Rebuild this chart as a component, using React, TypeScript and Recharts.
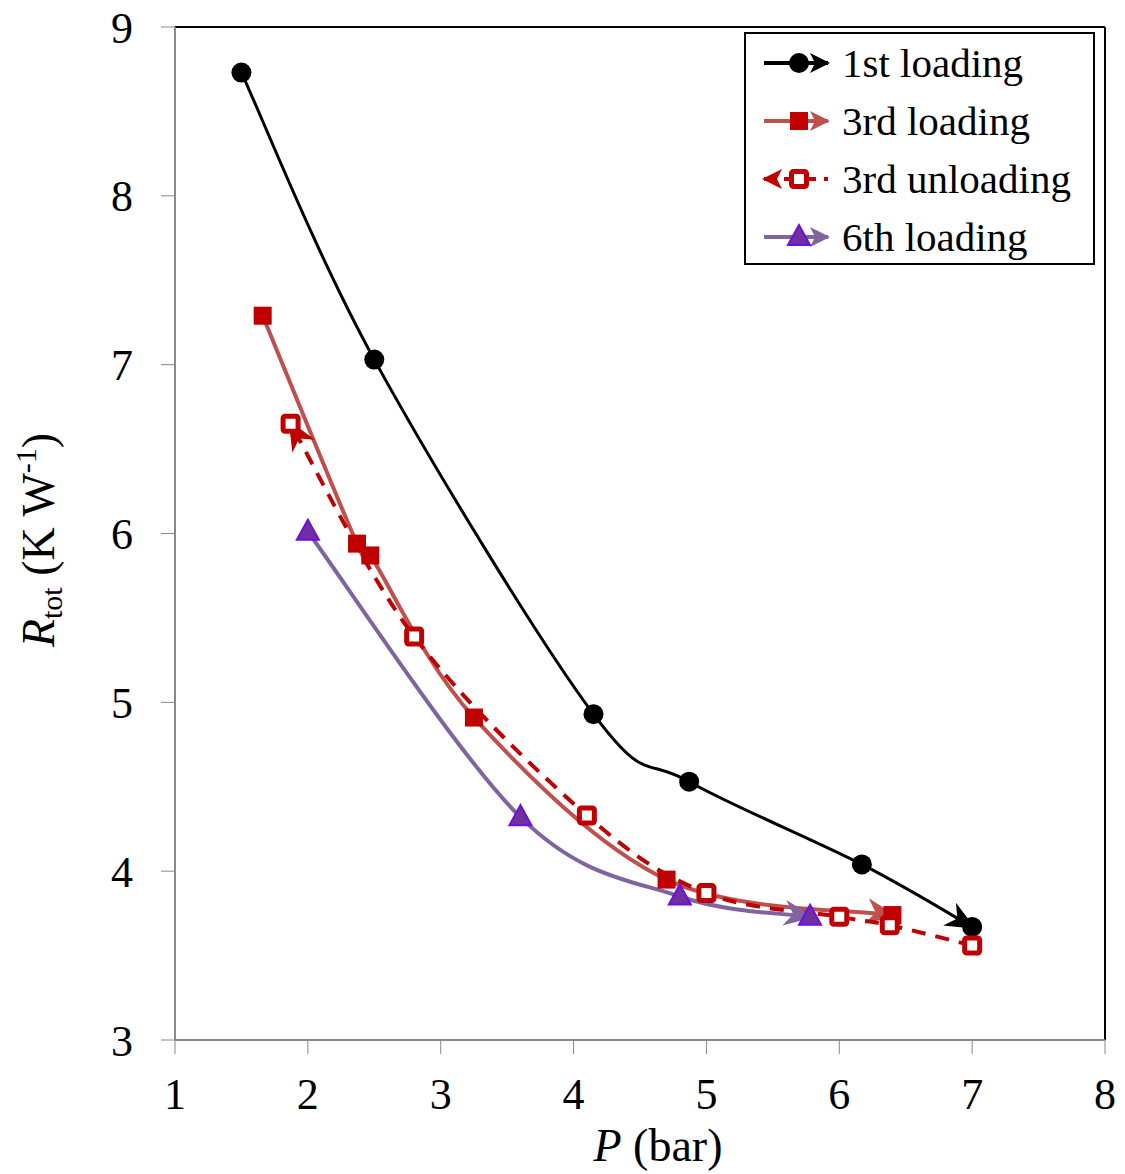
import React from "react";
import {
  Line,
  LineChart,
  ReferenceLine,
  XAxis,
  YAxis,
} from "recharts";

const FONT = "'Liberation Serif', 'Times New Roman', serif";

// P (bar) / R_tot (K W-1)
const firstX = [1.5, 2.5, 4.15, 4.87, 6.17, 7.0];
const firstY = [8.73, 7.03, 4.93, 4.53, 4.04, 3.67];

const thirdLoadX = [1.66, 2.37, 2.47, 3.25, 4.7, 6.4];
const thirdLoadY = [7.29, 5.94, 5.87, 4.91, 3.95, 3.74];

const thirdUnloadX = [7.0, 6.38, 6.0, 5.0, 4.1, 2.8, 1.87];
const thirdUnloadY = [3.56, 3.68, 3.73, 3.87, 4.33, 5.39, 6.65];

const sixthX = [2.0, 3.6, 4.8, 5.78];
const sixthY = [6.01, 4.32, 3.85, 3.73];

const xTicks = [1, 2, 3, 4, 5, 6, 7, 8];
const yTicks = [3, 4, 5, 6, 7, 8, 9];

const zip = (xs: number[], ys: number[]) => xs.map((x, i) => ({ x, y: ys[i] }));

const firstData = zip(firstX, firstY);
const thirdLoadData = zip(thirdLoadX, thirdLoadY);
const thirdUnloadData = zip(thirdUnloadX, thirdUnloadY);
const sixthData = zip(sixthX, sixthY);

// Catmull-Rom style smoothing, close to Excel's smoothed lines
function smoothCurve(context: any) {
  let pts: number[][] = [];
  return {
    areaStart() {},
    areaEnd() {},
    lineStart() {
      pts = [];
    },
    point(x: number, y: number) {
      pts.push([x, y]);
    },
    lineEnd() {
      const n = pts.length;
      if (!n) return;
      context.moveTo(pts[0][0], pts[0][1]);
      for (let i = 0; i < n - 1; i++) {
        const p0 = pts[Math.max(i - 1, 0)];
        const p1 = pts[i];
        const p2 = pts[i + 1];
        const p3 = pts[Math.min(i + 2, n - 1)];
        context.bezierCurveTo(
          p1[0] + (p2[0] - p0[0]) / 6,
          p1[1] + (p2[1] - p0[1]) / 6,
          p2[0] - (p3[0] - p1[0]) / 6,
          p2[1] - (p3[1] - p1[1]) / 6,
          p2[0],
          p2[1]
        );
      }
    },
  };
}

const circleDot = (p: any) => (
  <circle key={`c${p.index}`} cx={p.cx} cy={p.cy} r={10} fill="#000" />
);
const squareDot = (p: any) => (
  <rect key={`s${p.index}`} x={p.cx - 9} y={p.cy - 9} width={18} height={18} fill="#C00000" />
);
const openSquareDot = (p: any) => (
  <rect
    key={`o${p.index}`}
    x={p.cx - 7.5}
    y={p.cy - 7.5}
    width={15}
    height={15}
    rx={2}
    fill="#fff"
    stroke="#C00000"
    strokeWidth={5}
  />
);
const triangleDot = (p: any) => (
  <polygon
    key={`t${p.index}`}
    points={`${p.cx},${p.cy - 12} ${p.cx - 11},${p.cy + 8} ${p.cx + 11},${p.cy + 8}`}
    fill="#7030A0"
    stroke="#6A10E0"
    strokeWidth={2}
  />
);

const arrowPath = "M30,15 L0,2 L9,15 L0,28 Z";

const legendItems = [
  { label: "1st loading", color: "#000", dash: undefined, dot: "circle", dir: 1 },
  { label: "3rd loading", color: "#C0504D", dash: undefined, dot: "square", dir: 1 },
  { label: "3rd unloading", color: "#C00000", dash: "12 8", dot: "open", dir: -1 },
  { label: "6th loading", color: "#8064A2", dash: undefined, dot: "triangle", dir: 1 },
];

function LegendBox() {
  return (
    <div
      style={{
        position: "absolute",
        left: 744,
        top: 32,
        border: "2px solid #000",
        background: "#fff",
        width: 351,
        height: 233,
        boxSizing: "border-box",
        paddingTop: 0,
        fontFamily: FONT,
      }}
    >
      {legendItems.map((it) => (
        <div key={it.label} style={{ display: "flex", alignItems: "center", height: 58 }}>
          <svg width={90} height={40} style={{ marginLeft: 12 }}>
            <line x1={6} y1={20} x2={70} y2={20} stroke={it.color} strokeWidth={4} strokeDasharray={it.dash} />
            {it.dir === 1 ? (
              <path d="M72,20 L52,10 L57,20 L52,30 Z" fill={it.color} />
            ) : (
              <path d="M4,20 L24,10 L19,20 L24,30 Z" fill={it.color} />
            )}
            {it.dot === "circle" && <circle cx={41} cy={20} r={10} fill="#000" />}
            {it.dot === "square" && <rect x={32} y={11} width={18} height={18} fill="#C00000" />}
            {it.dot === "open" && (
              <rect x={33.5} y={12.5} width={15} height={15} rx={2} fill="#fff" stroke="#C00000" strokeWidth={5} />
            )}
            {it.dot === "triangle" && (
              <polygon points="41,8 30,28 52,28" fill="#7030A0" stroke="#6A10E0" strokeWidth={2} />
            )}
          </svg>
          <span style={{ fontSize: 41, lineHeight: "58px", color: "#000", marginLeft: -6 }}>{it.label}</span>
        </div>
      ))}
    </div>
  );
}

export default function App() {
  return (
    <div style={{ position: "absolute", left: 0, top: 0, width: 1125, height: 1174, background: "#fff" }}>
      <LineChart
        width={1125}
        height={1174}
        margin={{ top: 27, right: 20, left: 0, bottom: 0 }}
        style={{ fontFamily: FONT }}
      >
        <defs>
          {[
            ["arrBlack", "#000"],
            ["arrRed", "#C0504D"],
            ["arrDark", "#C00000"],
            ["arrPurple", "#8064A2"],
          ].map(([id, c]) => (
            <marker
              key={id}
              id={id}
              viewBox="0 0 30 30"
              refX={26}
              refY={15}
              markerWidth={30}
              markerHeight={30}
              markerUnits="userSpaceOnUse"
              orient="auto"
            >
              <path d={arrowPath} fill={c} />
            </marker>
          ))}
        </defs>
        <XAxis
          type="number"
          dataKey="x"
          domain={[1, 8]}
          ticks={xTicks}
          interval={0}
          height={134}
          tickSize={14}
          tickMargin={24}
          stroke="#898989"
          axisLine={{ stroke: "#898989", strokeWidth: 2 }}
          tick={{ fill: "#000", fontSize: 44, fontFamily: FONT }}
          label={{
            content: () => (
              <text x={658} y={1161} textAnchor="middle" fontSize={46} fontFamily={FONT} fill="#000">
                <tspan fontStyle="italic">P</tspan>
                <tspan> (bar)</tspan>
              </text>
            ),
          }}
        />
        <YAxis
          type="number"
          dataKey="y"
          domain={[3, 9]}
          ticks={yTicks}
          interval={0}
          width={175}
          tickSize={14}
          tickMargin={28}
          stroke="#898989"
          axisLine={{ stroke: "#898989", strokeWidth: 2 }}
          tick={{ fill: "#000", fontSize: 44, fontFamily: FONT }}
          label={{
            content: () => (
              <text
                transform="translate(54,540) rotate(-90)"
                textAnchor="middle"
                fontSize={46}
                fontFamily={FONT}
                fill="#000"
              >
                <tspan fontStyle="italic">R</tspan>
                <tspan fontSize={30} dy={8}>tot</tspan>
                <tspan dy={-8}> (K W</tspan>
                <tspan fontSize={30} dy={-18}>-1</tspan>
                <tspan dy={18}>)</tspan>
              </text>
            ),
          }}
        />
        <ReferenceLine y={9} stroke="#000" strokeWidth={2} />
        <ReferenceLine x={8} stroke="#000" strokeWidth={2} />
        <Line
          data={firstData}
          dataKey="y"
          type={smoothCurve as any}
          stroke="#000"
          strokeWidth={3}
          dot={circleDot}
          markerEnd="url(#arrBlack)"
          isAnimationActive={false}
        />
        <Line
          data={thirdLoadData}
          dataKey="y"
          type={smoothCurve as any}
          stroke="#C0504D"
          strokeWidth={4}
          dot={squareDot}
          markerEnd="url(#arrRed)"
          isAnimationActive={false}
        />
        <Line
          data={thirdUnloadData}
          dataKey="y"
          type={smoothCurve as any}
          stroke="#C00000"
          strokeWidth={4}
          strokeDasharray="14 10"
          dot={openSquareDot}
          markerEnd="url(#arrDark)"
          isAnimationActive={false}
        />
        <Line
          data={sixthData}
          dataKey="y"
          type={smoothCurve as any}
          stroke="#8064A2"
          strokeWidth={4}
          dot={triangleDot}
          markerEnd="url(#arrPurple)"
          isAnimationActive={false}
        />
      </LineChart>
      <LegendBox />
    </div>
  );
}
